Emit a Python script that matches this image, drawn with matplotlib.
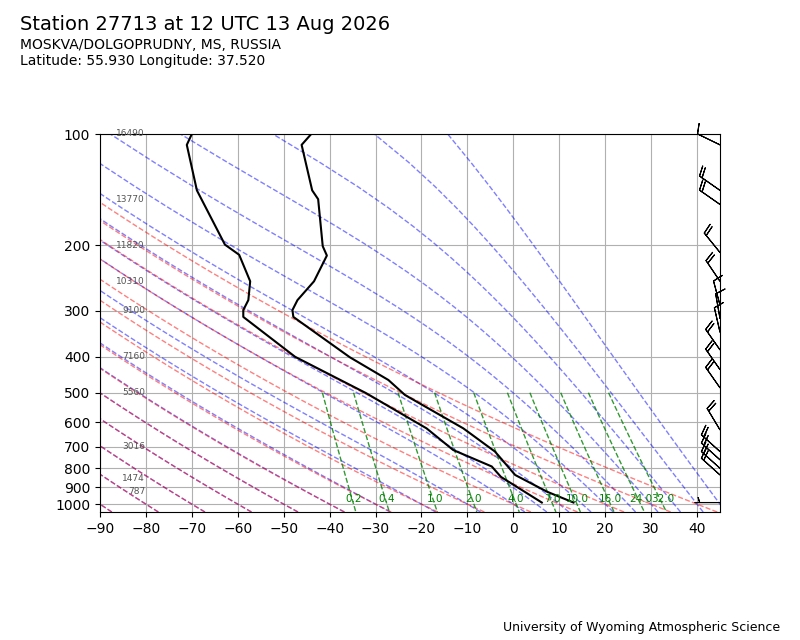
import numpy as np
import matplotlib
matplotlib.use('Agg')
import matplotlib.pyplot as plt
from matplotlib.collections import LineCollection
from matplotlib.ticker import MultipleLocator, NullLocator, ScalarFormatter

# sounding
p_temp = [990, 925, 834, 721, 624, 507, 462, 401, 312, 299, 281, 250, 213, 201, 150, 142, 107, 100]
temp = [13.1, 7.3, 0.4, -4.0, -10.9, -23.6, -27.2, -35.6, -47.9, -48.1, -47.0, -43.4, -40.6, -41.5,
        -42.5, -43.8, -46.1, -44.0]
p_dewp = [990, 844, 791, 714, 624, 501, 400, 312, 299, 281, 250, 212, 199, 142, 107, 100]
dewp = [6.2, -2.7, -4.7, -13.1, -18.9, -32.1, -47.5, -58.8, -58.8, -57.7, -57.3, -59.7, -62.8,
        -68.9, -71.1, -70.0]

# winds (deg, knots)
p_wind = [990, 834, 800, 759, 721, 630, 485, 433, 383, 343, 315, 290, 250, 209, 155, 142, 107]
wdir = [270, 312, 312, 312, 312, 329, 325, 325, 325, 347, 350, 345, 326, 321, 305, 305, 296]
wspd = [5, 20, 20, 20, 20, 20, 20, 20, 20, 10, 10, 10, 20, 20, 20, 20, 10]

# heights of standard levels
height_p = [100, 150, 200, 250, 300, 400, 500, 700, 850, 925]
height_m = ['16490', '13770', '11820', '10310', '9100', '7160', '5560', '3016', '1474', '787']

# background lines
dry_t0 = [-90, -80, -70, -60, -50, -40, -30, -20, -10, 0, 10, 20, 30, 40]
moist_t0 = [-90, -80, -70, -60, -50, -40, -30, -20, -10, 0, 5, 10, 15, 20, 25, 30, 35, 40, 45]
mix_ratio = [0.2, 0.4, 1.0, 2.0, 4.0, 7.0, 10.0, 16.0, 24.0, 32.0]  # g/kg

Rd = 287.04749
Cp = 1004.6662
Lv = 2.50084e6
eps = 0.6219569


def sat_vap(t_c):
    return 6.112 * np.exp(17.67 * t_c / (t_c + 243.5))


def dewpoint_from_e(e):
    a = np.log(e / 6.112)
    return 243.5 * a / (17.67 - a)


def moist_rate(p, t):
    es = sat_vap(t - 273.15)
    rs = eps * es / (p - es)
    return (Rd * t + Lv * rs) / (Cp + Lv * Lv * rs * eps / (Rd * t * t)) / p


def moist_lapse(pres, t0, p0=1000.0):
    # rk4 outward from p0 in both directions
    out = np.empty_like(pres)
    for i, pt in enumerate(pres):
        n = 60
        h = (pt - p0) / n
        t = t0 + 273.15
        p = p0
        for _ in range(n):
            k1 = moist_rate(p, t)
            k2 = moist_rate(p + h / 2, t + h * k1 / 2)
            k3 = moist_rate(p + h / 2, t + h * k2 / 2)
            k4 = moist_rate(p + h, t + h * k3)
            t = t + h * (k1 + 2 * k2 + 2 * k3 + k4) / 6
            p = p + h
        out[i] = t - 273.15
    return out


fig = plt.figure(figsize=(8, 6.4), dpi=100)
ax = fig.add_axes([0.125, 0.2, 0.775, 0.590625])

pres = np.linspace(1050, 100, 50)

# moist first so the red dry adiabats sit on top where they overlap
moist = [np.column_stack((moist_lapse(pres, t), pres)) for t in moist_t0]
ax.add_collection(LineCollection(moist, colors='b', linestyles='dashed', alpha=0.5, linewidths=1))

dry = [np.column_stack(((t + 273.15) * (pres / 1000.0) ** (Rd / Cp) - 273.15, pres)) for t in dry_t0]
ax.add_collection(LineCollection(dry, colors='r', linestyles='dashed', alpha=0.5, linewidths=1))

pmix = np.linspace(500, 1050, 50)
mix = []
for w in mix_ratio:
    r = w / 1000.0
    mix.append(np.column_stack((dewpoint_from_e(pmix * r / (eps + r)), pmix)))
    td1000 = dewpoint_from_e(1000.0 * r / (eps + r))
    ax.text(td1000, 1000, '%.1f' % w, ha='center', va='bottom', color='g', fontsize=7.5)
ax.add_collection(LineCollection(mix, colors='g', linestyles='dashed', alpha=0.8, linewidths=1))

ax.plot(temp, p_temp, color='k', lw=1.5)
ax.plot(dewp, p_dewp, color='k', lw=1.5)

wd = np.radians(wdir)
u = -np.array(wspd) * np.sin(wd)
v = -np.array(wspd) * np.cos(wd)
ax.barbs(np.ones(len(p_wind)), p_wind, u, v, transform=ax.get_yaxis_transform(),
         clip_on=False, length=6, lw=0.8, zorder=3)

for hp, hm in zip(height_p, height_m):
    ax.text(-80.2, hp, hm, ha='right', va='center', fontsize=6.5, color='#555555')

ax.set_yscale('log')
ax.set_ylim(1050, 100)
ax.set_xlim(-90, 45)
ax.yaxis.set_major_locator(MultipleLocator(100))
ax.yaxis.set_major_formatter(ScalarFormatter())
ax.yaxis.set_minor_locator(NullLocator())
ax.xaxis.set_major_locator(MultipleLocator(10))
ax.grid(True)

fig.text(0.025, 0.961, 'Station 27713 at 12 UTC 13 Aug 2026', fontsize=14, va='center')
fig.text(0.025, 0.930, 'MOSKVA/DOLGOPRUDNY, MS, RUSSIA', fontsize=10, va='center')
fig.text(0.025, 0.905, 'Latitude: 55.930 Longitude: 37.520', fontsize=10, va='center')
fig.text(0.975, 0.020, 'University of Wyoming Atmospheric Science', fontsize=9, ha='right', va='center')

fig.savefig('out.png', dpi=100)
